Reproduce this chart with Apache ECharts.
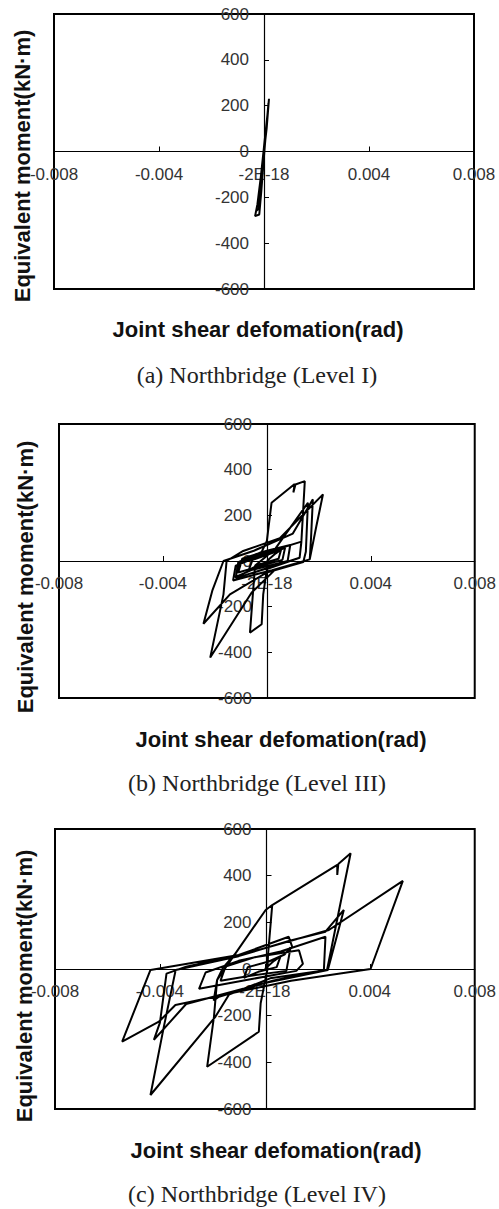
<!DOCTYPE html>
<html><head><meta charset="utf-8">
<script src="https://cdn.jsdelivr.net/npm/echarts@6/dist/echarts.min.js"></script>
<style>html,body{margin:0;padding:0;background:#fff;}#c{width:499px;height:1209px;}</style>
</head><body><div id="c"></div>
<script>
// ---- tick labels / texts ----
const xTickLabels = ['-0.008', '-0.004', '-2E-18', '0.004', '0.008'];
const yTickLabels = ['-600', '-400', '-200', '0', '200', '400', '600'];
const yTitle = 'Equivalent moment(kN·m)';
const xTitle = 'Joint shear defomation(rad)';
const captions = ['(a) Northbridge (Level I)', '(b) Northbridge (Level III)', '(c) Northbridge (Level IV)'];

// ---- (a) Level I ----
const aX = [0, 0.0001, 0.00019, 0.00014, 0, -0.00012, -0.00025, -0.00034, -0.00018, -0.0001, 0.00002, 0.00012, 0.00017, 0.0001, -0.00005, -0.0002, -0.0003, -0.0002, -0.00005, 0.00005];
const aY = [0, 100, 230, 170, 20, -110, -230, -282, -275, -170, 10, 140, 210, 120, -40, -200, -260, -250, -60, 60];

// ---- (b) Level III ----
const bX = [0,0.0003,0.00055,0.00045,-0.0003,-0.0007,-0.00055,0.0002,0.0007,0.0006,
 -0.0005,-0.0011,-0.00095,0,0.0009,0.0008,-0.0006,-0.0012,-0.00105,0.0002,
 0.00133,0.00126,0.0002,-0.0012,-0.0011,-0.0002,0,0.00018,0.00107,0.00102,
 0.0011,0.00146,0.00133,0.00126,0,-0.00014,-0.0002,-0.00065,-0.00052,-0.00045,
 0.0003,0.00158,0.0015,0.0014,0,-0.00142,-0.00244,-0.0021,-0.00167,-0.0005,
 0.001,0.00177,0.0017,0.00165,0.0003,-0.00059,-0.00218,-0.00167,-0.00155,-0.00091,
 0.0005,0.00216,0.0019,0.00165,0.0002,-0.0008,-0.0013,-0.0012,-0.0003];
const bY = [0,30,50,10,-15,-40,5,35,58,5,
 -30,-50,10,45,70,0,-40,-70,-5,45,
 85,14,-25,-75,-5,40,88,255,337,300,
 335,350,88,14,-35,-146,-277,-314,-117,-20,
 50,255,40,-5,-50,-146,-275,-130,0,45,
 120,270,100,7,-40,-139,-423,-146,0,44,
 100,292,150,7,-40,-70,-85,-20,20];

// ---- (c) Level IV ----
const cX = [0,0.00035,0.0006,0.00045,-0.00025,-0.0008,-0.00065,0.00015,0.00075,
 0.00098,0.00082,-0.0006,-0.00169,-0.0015,-0.0004,0.0013,0.00145,0.0012,-0.0006,
 -0.00251,-0.00226,-0.001,0.0006,0.00231,0.00225,0.0003,-0.00175,-0.00195,-0.00182,
 -0.00112,0.00003,0.00028,0.00012,0.0001,-0.00016,-0.00023,-0.0022,-0.00194,-0.00182,
 -0.0016,-0.00112,0.00003,0.00028,0.00276,0.00276,0.0028,0.00327,0.00283,0.00237,
 0.0002,-0.00137,-0.00188,-0.00436,-0.00385,-0.0034,-0.001,0.00091,0.00231,0.00301,
 0.0024,0,-0.003,-0.00423,-0.004,-0.00375,-0.003,-0.00061,0.00244,0.00526,
 0.00403,0.001,-0.00341,-0.00404,-0.00544,-0.00436,-0.001,0.00091,0.00104];
const cY = [0,35,55,8,-12,-38,8,32,62,
 93,-8,-30,-50,10,50,80,22,-8,-45,
 -85,-15,35,75,138,-4,-50,-119,-135,-47,
 67,253,274,60,0,-147,-269,-419,-204,-47,
 5,67,253,274,446,403,450,496,253,-4,
 -40,-110,-204,-540,-247,-4,55,120,160,253,
 -4,-60,-150,-304,-230,-20,10,70,167,378,
 0,-50,-154,-226,-311,-4,60,138,96];

const panels = [
  {x: aX, y: aY, grid: {left: 54, top: 14, width: 420, height: 275}, yT: [22, 166], xT: [258, 329], cap: [257, 375]},
  {x: bX, y: bY, grid: {left: 59, top: 424, width: 416, height: 274}, yT: [25, 577], xT: [281, 739], cap: [257, 783]},
  {x: cX, y: cY, grid: {left: 55, top: 829, width: 423, height: 280}, yT: [24, 986], xT: [276, 1150], cap: [257, 1194]}
];

const XMIN = -0.008, XMAX = 0.008, XINT = 0.004;
const YMIN = -600, YMAX = 600, YINT = 200;
const labelFont = 'Liberation Sans, Arial, sans-serif';

const chart = echarts.init(document.getElementById('c'), null, {renderer: 'svg', width: 499, height: 1209});

const grid = [], xAxis = [], yAxis = [], series = [], graphic = [];
panels.forEach((p, i) => {
  const g = p.grid;
  grid.push(Object.assign({show: true, borderColor: '#000', borderWidth: 2, backgroundColor: '#fff', containLabel: false}, g));
  // axes drawn through the origin: shift them inward by the offset to the zero point
  const xOff = -g.height * (YMAX / (YMAX - YMIN));
  const yOff = -g.width * ((0 - XMIN) / (XMAX - XMIN));
  xAxis.push({
    type: 'value', gridIndex: i, min: XMIN, max: XMAX, interval: XINT, position: 'bottom', offset: xOff,
    axisLine: {show: true, onZero: false, lineStyle: {color: '#000', width: 1.2}},
    axisTick: {show: true, inside: true, length: 5, lineStyle: {color: '#000'}},
    splitLine: {show: false},
    axisLabel: {
      margin: 14, color: '#333', fontSize: 17, fontFamily: labelFont,
      showMinLabel: true, showMaxLabel: true, hideOverlap: false,
      formatter: v => xTickLabels[Math.round((v - XMIN) / XINT)]
    }
  });
  yAxis.push({
    type: 'value', gridIndex: i, min: YMIN, max: YMAX, interval: YINT, position: 'left', offset: yOff,
    axisLine: {show: true, onZero: false, lineStyle: {color: '#000', width: 1.2}},
    axisTick: {show: true, inside: true, length: 5, lineStyle: {color: '#000'}},
    splitLine: {show: false},
    axisLabel: {
      margin: 15, color: '#333', fontSize: 17, fontFamily: labelFont,
      showMinLabel: true, showMaxLabel: true,
      formatter: v => yTickLabels[Math.round((v - YMIN) / YINT)]
    }
  });
  series.push({
    type: 'line', xAxisIndex: i, yAxisIndex: i, showSymbol: false, symbol: 'none',
    lineStyle: {color: '#000', width: 2}, z: 5, animation: false,
    data: p.x.map((xv, k) => [xv, p.y[k]])
  });
  graphic.push({
    type: 'text', x: p.yT[0], y: p.yT[1], rotation: Math.PI / 2,
    style: {text: yTitle, fill: '#111', font: 'bold 22px Liberation Sans, Arial, sans-serif', align: 'center', verticalAlign: 'middle'}
  });
  graphic.push({
    type: 'text', x: p.xT[0], y: p.xT[1],
    style: {text: xTitle, fill: '#111', font: 'bold 22px Liberation Sans, Arial, sans-serif', align: 'center', verticalAlign: 'middle'}
  });
  graphic.push({
    type: 'text', x: p.cap[0], y: p.cap[1],
    style: {text: captions[i], fill: '#222', font: '24px Liberation Serif, Times New Roman, serif', align: 'center', verticalAlign: 'middle'}
  });
});

chart.setOption({animation: false, backgroundColor: '#fff', grid, xAxis, yAxis, series, graphic});
</script></body></html>
